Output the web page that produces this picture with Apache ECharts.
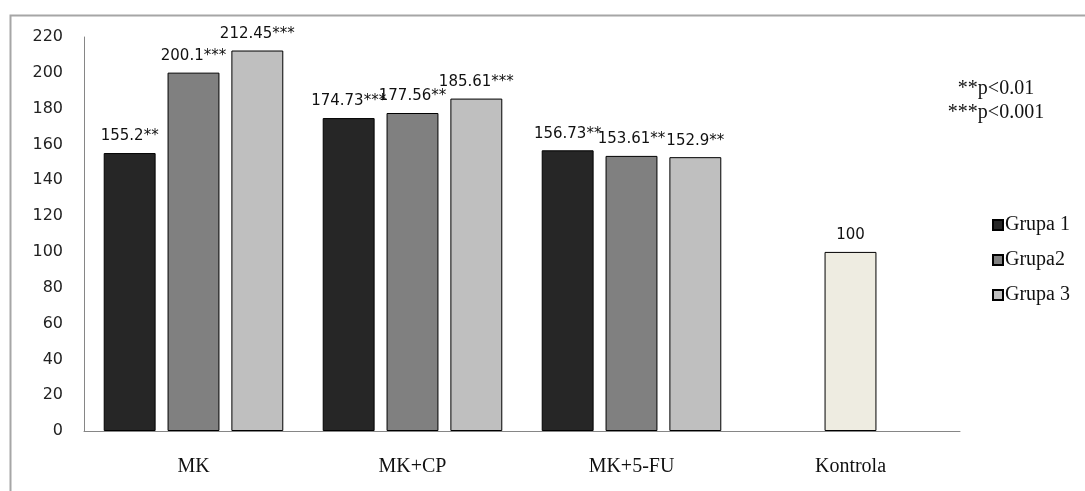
<!DOCTYPE html>
<html>
<head>
<meta charset="utf-8">
<script src="https://cdn.jsdelivr.net/npm/echarts@6/dist/echarts.min.js"></script>
<style>
html,body{margin:0;padding:0;background:#fff;}
#chart{width:1085px;height:491px;}
</style>
</head>
<body>
<div id="chart"></div>
<script>
var categories = ['MK', 'MK+CP', 'MK+5-FU', 'Kontrola'];
var seriesNames = ['Grupa 1', 'Grupa2', 'Grupa 3'];
var grupa1 = [155.2, 174.73, 156.73, null];
var grupa2 = [200.1, 177.56, 153.61, 100];
var grupa3 = [212.45, 185.61, 152.9, null];
var sig1 = ['**', '***', '**', ''];
var sig2 = ['***', '**', '**', ''];
var sig3 = ['***', '***', '**', ''];
var yTicks = [0, 20, 40, 60, 80, 100, 120, 140, 160, 180, 200, 220];
var noteLines = ['**p<0.01', '***p<0.001'];

var colors = ['#262626', '#808080', '#bfbfbf'];
var controlColor = '#eeece1';

var chart = echarts.init(document.getElementById('chart'), null, {renderer: 'canvas'});

function makeSeries(name, values, sigs, color) {
  return {
    name: name,
    type: 'bar',
    barGap: '23%',
    barCategoryGap: '18%',
    itemStyle: {color: color, borderColor: '#000', borderWidth: 1},
    label: {
      show: true,
      position: 'top',
      distance: 9,
      fontFamily: 'DejaVu Sans',
      fontSize: 15,
      color: '#111',
      formatter: function (p) { return p.value + sigs[p.dataIndex]; }
    },
    data: values.map(function (v, i) {
      if (v === null) return '-';
      if (categories[i] === 'Kontrola') {
        return {value: v, itemStyle: {color: controlColor}};
      }
      return v;
    })
  };
}

var option = {
  backgroundColor: '#fff',
  animation: false,
  grid: {left: 84, right: 125, top: 37, bottom: 60},
  legend: {
    orient: 'vertical',
    left: 987,
    top: 210,
    icon: 'rect',
    itemWidth: 10,
    itemHeight: 10,
    itemGap: 15,
    textStyle: {fontFamily: 'Liberation Serif', fontSize: 20, color: '#111', padding: [0, 0, 0, -3]},
    data: seriesNames
  },
  xAxis: {
    type: 'category',
    data: categories,
    axisLine: {lineStyle: {color: '#868686', width: 1}},
    axisTick: {show: false},
    axisLabel: {fontFamily: 'Liberation Serif', fontSize: 20, color: '#111', margin: 26}
  },
  yAxis: {
    type: 'value',
    min: yTicks[0],
    max: yTicks[yTicks.length - 1],
    interval: yTicks[1] - yTicks[0],
    axisLine: {show: true, lineStyle: {color: '#868686', width: 1}},
    axisTick: {show: false},
    splitLine: {show: false},
    axisLabel: {fontFamily: 'DejaVu Sans', fontSize: 16, color: '#222', margin: 21}
  },
  graphic: [
    {
      type: 'rect',
      left: 8, top: 13,
      shape: {width: 1200, height: 600},
      style: {fill: 'none', stroke: '#a6a6a6', lineWidth: 2},
      silent: true
    },
    {
      type: 'text',
      x: 996, y: 89,
      style: {text: noteLines[0], font: '20px "Liberation Serif"', fill: '#111', textAlign: 'center', textVerticalAlign: 'middle'}
    },
    {
      type: 'text',
      x: 996, y: 113,
      style: {text: noteLines[1], font: '20px "Liberation Serif"', fill: '#111', textAlign: 'center', textVerticalAlign: 'middle'}
    }
  ],
  series: [
    makeSeries(seriesNames[0], grupa1, sig1, colors[0]),
    makeSeries(seriesNames[1], grupa2, sig2, colors[1]),
    makeSeries(seriesNames[2], grupa3, sig3, colors[2])
  ]
};
chart.setOption(option);
</script>
</body>
</html>
